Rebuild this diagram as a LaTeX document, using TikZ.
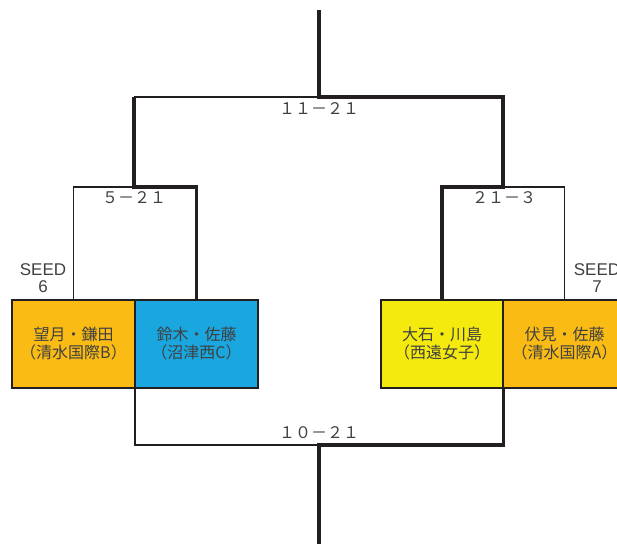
\documentclass[tikz,border=0pt]{standalone}
\usepackage{fontspec}
\usepackage{xcolor}
\usepackage{tikz}
\usetikzlibrary{positioning,calc}
\newfontfamily\jpfont{Noto Sans CJK JP}
\newfontfamily\seedfont{Liberation Sans}
\definecolor{lineInk}{HTML}{231F20}
\definecolor{textGray}{HTML}{404040}
\definecolor{seedOrange}{HTML}{FABC14}
\definecolor{teamBlue}{HTML}{1AA6DF}
\definecolor{teamYellow}{HTML}{F4EA0E}

\begin{document}
\begin{tikzpicture}[
    x=1pt, y=-1pt,
    team/.style={draw=lineInk, line width=2pt, minimum width=123pt, minimum height=88pt, outer sep=0pt, inner sep=0pt,
      align=center, font=\jpfont\fontsize{16}{18}\selectfont, text=textGray},
    score/.style={font=\jpfont\fontsize{16}{18}\selectfont, text=textGray, inner sep=0pt},
    seed/.style={font=\seedfont\fontsize{17}{17}\selectfont, text=textGray, align=center, inner sep=0pt},
    lose/.style={draw=lineInk, line width=1.6pt, line join=miter},
    win/.style={draw=lineInk, line width=3.6pt, line join=miter}
  ]
  \useasboundingbox (0,0) rectangle (617,544);

  % teams
  \node[team, fill=seedOrange] (mochizuki) at (73.5,344) {望月・鎌田\\（清水国際B）};
  \node[team, fill=teamBlue] (suzuki) at (196.5,344) {鈴木・佐藤\\（沼津西C）};
  \node[team, fill=teamYellow] (oishi) at (442,344) {大石・川島\\（西遠女子）};
  \node[team, fill=seedOrange] (fushimi) at (564.5,344) {伏見・佐藤\\（清水国際A）};

  % seeds
  \node[seed] (seedL) at (43,278) {SEED\\6};
  \node[seed] (seedR) at (597,278) {SEED\\7};

  % bracket joints
  \coordinate (semiL) at (134,187);
  \coordinate (semiR) at (503,187);
  \coordinate (final) at (319,97);
  \coordinate (champ) at (319,10);
  \coordinate (third) at (319,445);
  \coordinate (thirdEnd) at (319,544);

  % upper bracket
  \draw[lose] (mochizuki.north) |- (semiL);
  \draw[lose] (fushimi.north) |- (semiR);
  \draw[lose] (semiL |- final) -- (final);
  \draw[win] (suzuki.north) |- (semiL) -- (semiL |- final);
  \draw[win] (oishi.north) |- (semiR) |- (final) -- (champ);

  % lower bracket
  \draw[lose] (mochizuki.south east) |- (third);
  \draw[win] (oishi.south east) |- (third) -- (thirdEnd);

  % scores
  \node[score] (scoreFinal) at (319,109) {１１－２１};
  \node[score] (scoreL) at (134,198) {５－２１};
  \node[score] (scoreR) at (504,198) {２１－３};
  \node[score] (scoreThird) at (319,433) {１０－２１};
\end{tikzpicture}
\end{document}
